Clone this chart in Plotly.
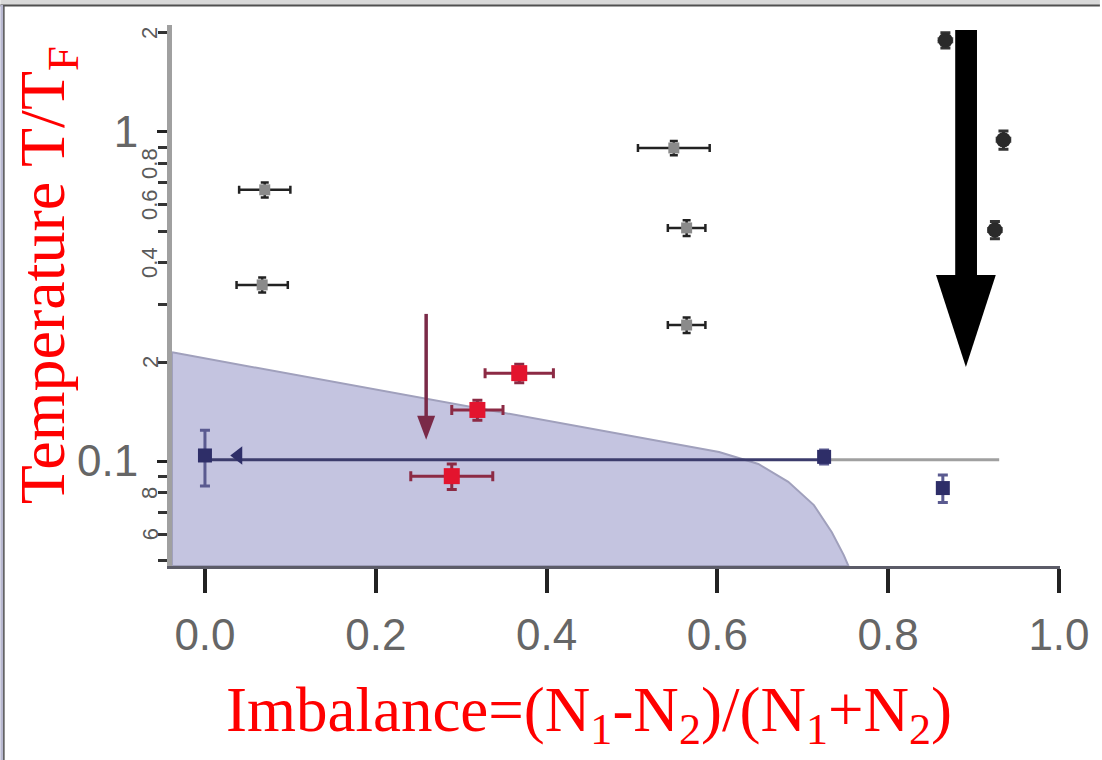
import numpy as np
import plotly.graph_objects as go

# ---------------- data ----------------
gray_x = [0.070, 0.067, 0.549, 0.564, 0.564]
gray_y = [0.667, 0.343, 0.894, 0.511, 0.259]
gray_xerr = [0.030, 0.030, 0.042, 0.022, 0.022]
gray_yerr = [0.035, 0.018, 0.045, 0.028, 0.014]

black_x = [0.867, 0.935, 0.925]
black_y = [1.90, 0.946, 0.504]
black_xerr = [0.008, 0.008, 0.008]
black_yerr = [0.10, 0.06, 0.03]

red_x = [0.368, 0.319, 0.289]
red_y = [0.185, 0.143, 0.090]
red_xerr = [0.040, 0.030, 0.048]
red_yerr = [0.012, 0.010, 0.008]

blue_x = [0.0, 0.725, 0.864]
blue_y = [0.104, 0.103, 0.0828]
blue_yerr = [0.020, 0.005, 0.008]

tri_x = [0.039]
tri_y = [0.104]

line_dark_x = [0.0, 0.725]
line_light_x = [0.725, 0.93]
line_y = [0.101, 0.101]

# phase boundary (superfluid region)
bound_x = [-0.0386, 0.602, 0.648, 0.683, 0.713, 0.734, 0.748, 0.7535, -0.0386, -0.0386]
bound_y = [0.214, 0.1065, 0.098, 0.0865, 0.0735, 0.0608, 0.0518, 0.048, 0.048, 0.214]

x_ticks = [0.0, 0.2, 0.4, 0.6, 0.8, 1.0]
x_ticktext = ["0.0", "0.2", "0.4", "0.6", "0.8", "1.0"]
y_labeled = [1, 0.1]
y_labeled_text = ["1", "0.1"]
y_other_ticks = [2, 0.9, 0.8, 0.7, 0.6, 0.5, 0.4, 0.3, 0.2, 0.09, 0.08, 0.07, 0.06, 0.05]
y_rot_vals = [2, 0.8, 0.6, 0.4, 0.2, 0.08, 0.06]
y_rot_text = ["2", "0.8", "0.6", "0.4", "2", "8", "6"]

x_title = "Imbalance=(N<sub>1</sub>-N<sub>2</sub>)/(N<sub>1</sub>+N<sub>2</sub>)"
y_title = "Temperature T/T<sub>F</sub>"

# red arrow (from, to)
red_arrow_x = 0.259
red_arrow_y = [0.28, 0.116]

# ---------------- figure ----------------
fig = go.Figure()

fig.add_trace(go.Scatter(
    x=bound_x, y=bound_y, mode="lines", fill="toself",
    fillcolor="#c4c4e0", line=dict(color="#a0a0bc", width=2),
    hoverinfo="skip", showlegend=False))

fig.add_trace(go.Scatter(
    x=line_dark_x, y=line_y, mode="lines",
    line=dict(color="#3c3c6c", width=3), showlegend=False))
fig.add_trace(go.Scatter(
    x=line_light_x, y=line_y, mode="lines",
    line=dict(color="#a0a0a0", width=3), showlegend=False))

fig.add_trace(go.Scatter(
    x=gray_x, y=gray_y, mode="markers",
    marker=dict(symbol="square", size=11, color="#8a8a8a"),
    error_x=dict(type="data", array=gray_xerr, color="#222222", thickness=2.5, width=4),
    error_y=dict(type="data", array=gray_yerr, color="#222222", thickness=2.5, width=4),
    showlegend=False))

fig.add_trace(go.Scatter(
    x=black_x, y=black_y, mode="markers",
    marker=dict(symbol="circle", size=15, color="#2a2a2a"),
    error_x=dict(type="data", array=black_xerr, color="#555555", thickness=2, width=3),
    error_y=dict(type="data", array=black_yerr, color="#333333", thickness=3, width=5),
    showlegend=False))

fig.add_trace(go.Scatter(
    x=red_x, y=red_y, mode="markers",
    marker=dict(symbol="square", size=16, color="#e3142e"),
    error_x=dict(type="data", array=red_xerr, color="#8c2a44", thickness=3, width=5),
    error_y=dict(type="data", array=red_yerr, color="#8c2a44", thickness=3, width=5),
    showlegend=False))

fig.add_trace(go.Scatter(
    x=blue_x, y=blue_y, mode="markers",
    marker=dict(symbol="square", size=14, color="#2e2e68"),
    error_y=dict(type="data", array=blue_yerr, color="#5a5a90", thickness=3, width=5),
    showlegend=False))

fig.add_trace(go.Scatter(
    x=tri_x, y=tri_y, mode="markers",
    marker=dict(symbol="triangle-left", size=16, color="#2e2e68"),
    showlegend=False))

# ---------- geometry helpers (pixel layout) ----------
L, R, T, B = 172, 40, 25, 194
W, H = 1102, 760
pw, ph = W - L - R, H - T - B
xr = [-0.0386, 1.0012]
yr = [np.log10(0.048), np.log10(2.113)]

def px2paper_x(px):
    return (px - L) / pw

def py2paper_y(py):
    return (H - B - py) / ph

def val2paper_y(v):
    return (np.log10(v) - yr[0]) / (yr[1] - yr[0])

shapes = []
# window frame
shapes.append(dict(type="rect", xref="paper", yref="paper",
                   x0=px2paper_x(0), x1=px2paper_x(W), y0=py2paper_y(5), y1=py2paper_y(0),
                   fillcolor="#d9d9d9", line=dict(width=0), layer="above"))
shapes.append(dict(type="line", xref="paper", yref="paper",
                   x0=px2paper_x(0), x1=px2paper_x(W), y0=py2paper_y(5.5), y1=py2paper_y(5.5),
                   line=dict(color="#505050", width=2)))
shapes.append(dict(type="rect", xref="paper", yref="paper",
                   x0=px2paper_x(0), x1=px2paper_x(3), y0=py2paper_y(H), y1=py2paper_y(5),
                   fillcolor="#b8b8d0", line=dict(width=0)))
shapes.append(dict(type="line", xref="paper", yref="paper",
                   x0=px2paper_x(3.5), x1=px2paper_x(3.5), y0=py2paper_y(H), y1=py2paper_y(5),
                   line=dict(color="#505050", width=1.5)))

# big black arrow (shaft + head), x in data units, y in paper units
shapes.append(dict(type="rect", xref="x", yref="paper",
                   x0=0.8785, x1=0.904, y0=py2paper_y(278), y1=py2paper_y(30),
                   fillcolor="black", line=dict(width=0), layer="above"))
shapes.append(dict(type="path", xref="x", yref="paper",
                   path=f"M 0.856 {py2paper_y(275)} L 0.926 {py2paper_y(275)} L 0.891 {py2paper_y(367)} Z",
                   fillcolor="black", line=dict(width=0), layer="above"))

# red arrow: shaft + head
ra_top = val2paper_y(red_arrow_y[0])
ra_tip = val2paper_y(red_arrow_y[1])
head_len = 24 / ph
shapes.append(dict(type="line", xref="x", yref="paper",
                   x0=red_arrow_x, x1=red_arrow_x, y0=ra_top, y1=ra_tip + head_len * 0.8,
                   line=dict(color="#7a2a48", width=3.5), layer="above"))
hw = 9 / pw * (xr[1] - xr[0])
shapes.append(dict(type="path", xref="x", yref="paper",
                   path=(f"M {red_arrow_x - hw} {ra_tip + head_len} L {red_arrow_x + hw} {ra_tip + head_len} "
                         f"L {red_arrow_x} {ra_tip} Z"),
                   fillcolor="#7a2a48", line=dict(width=0), layer="above"))

annotations = []
for v, t in zip(y_rot_vals, y_rot_text):
    annotations.append(dict(xref="paper", yref="y", x=px2paper_x(150), y=np.log10(v),
                            text=t, showarrow=False, textangle=-90,
                            font=dict(family="Liberation Sans", size=22, color="#5a5a5a"),
                            xanchor="center", yanchor="middle"))

# axis titles placed as annotations for exact positioning
annotations.append(dict(xref="paper", yref="paper", x=px2paper_x(590), y=py2paper_y(714),
                        text=x_title, showarrow=False, xanchor="center", yanchor="middle",
                        font=dict(family="Liberation Serif", size=63, color="red")))
annotations.append(dict(xref="paper", yref="paper", x=px2paper_x(47), y=py2paper_y(275),
                        text=y_title, showarrow=False, xanchor="center", yanchor="middle",
                        textangle=-90,
                        font=dict(family="Liberation Serif", size=64, color="red")))

fig.update_layout(
    width=W, height=H,
    margin=dict(l=L, r=R, t=T, b=B),
    paper_bgcolor="white", plot_bgcolor="white",
    shapes=shapes, annotations=annotations,
    xaxis=dict(range=xr, tickvals=x_ticks, ticktext=x_ticktext,
               showgrid=False, zeroline=False,
               showline=True, linecolor="#5c5c68", linewidth=3,
               ticks="outside", ticklen=24, tickwidth=4, tickcolor="#222222",
               ticklabelstandoff=4,
               tickfont=dict(family="Liberation Sans", size=44, color="#666666")),
    yaxis=dict(type="log", range=yr, tickvals=y_labeled, ticktext=y_labeled_text,
               showgrid=False, zeroline=False,
               showline=True, linecolor="#a0a0a0", linewidth=5,
               ticks="outside", ticklen=10, tickwidth=3, tickcolor="#222222",
               ticklabelstandoff=10,
               minor=dict(tickvals=y_other_ticks, ticks="outside", ticklen=9, tickwidth=3,
                          tickcolor="#333333", showgrid=False),
               tickfont=dict(family="Liberation Sans", size=44, color="#666666")),
)

fig.write_html("out.html", config={"displayModeBar": False},
               post_script="document.body.style.margin='0';")
